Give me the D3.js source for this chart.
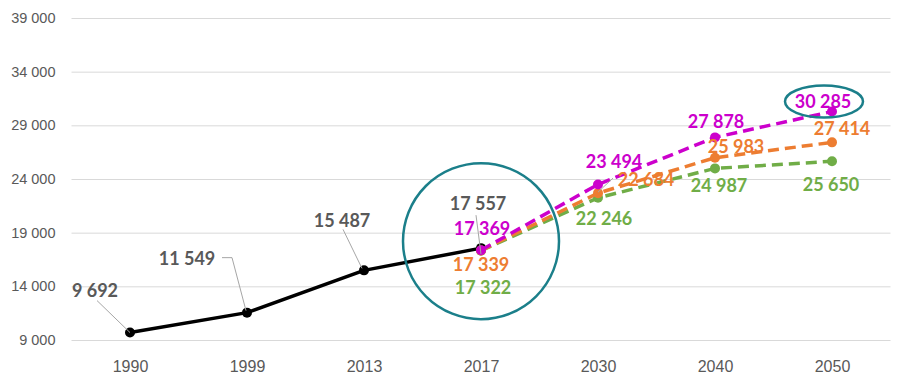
<!DOCTYPE html>
<html>
<head>
<meta charset="utf-8">
<script src="https://cdn.jsdelivr.net/npm/d3@7/dist/d3.min.js"></script>
<style>
  html, body { margin: 0; padding: 0; background: #fff; }
  svg { display: block; font-family: Lato, "Open Sans", sans-serif; }
</style>
</head>
<body>
<svg id="chart" width="897" height="374"></svg>
<script>
// Population: observed up to 2017, then three projection scenarios
const years = ["1990", "1999", "2013", "2017", "2030", "2040", "2050"];
const observed = [9692, 11549, 15487, 17557, null, null, null];
const scenarioHigh = [null, null, null, 17369, 23494, 27878, 30285];
const scenarioMid = [null, null, null, 17339, 22684, 25983, 27414];
const scenarioLow = [null, null, null, 17322, 22246, 24987, 25650];
const yTicks = [9000, 14000, 19000, 24000, 29000, 34000, 39000];

const series = [
  { name: "observed", values: observed, color: "#000000", dash: null, labelColor: "#595959",
    // label offsets [dx, dy] from each point
    offsets: [[-35, -43], [-60, -55], [-22, -50], [-3, -45]] },
  { name: "low", values: scenarioLow, color: "#70AD47", dash: "11,6", labelColor: "#70AD47",
    offsets: [null, null, null, [2, 36], [6, 20], [4, 17], [-1, 23]] },
  { name: "mid", values: scenarioMid, color: "#ED7D31", dash: "11,6", labelColor: "#ED7D31",
    offsets: [null, null, null, [0, 14], [48, -14], [21, -12], [10, -14]] },
  { name: "high", values: scenarioHigh, color: "#CC00CC", dash: "11,6", labelColor: "#CC00CC",
    offsets: [null, null, null, [1, -22], [16, -23], [1, -16], [-9, -11]] }
];

const svg = d3.select("#chart");
const x = d3.scalePoint().domain(years).range([71.5, 890.5]).padding(0.5);
const y = d3.scaleLinear().domain([9000, 39000]).range([340, 18]);
const fmt = v => d3.format(",")(v).replace(/,/g, " ");

// horizontal gridlines
const yAxis = d3.axisLeft(y).tickValues(yTicks).tickSize(-819).tickPadding(16).tickFormat(fmt);
const gy = svg.append("g").attr("transform", "translate(71.5,0)").call(yAxis);
gy.select(".domain").remove();
gy.selectAll(".tick line").attr("stroke", "#d9d9d9").attr("stroke-width", 1);
gy.selectAll(".tick text").attr("fill", "#595959").attr("font-size", 14.5).attr("x", -16);

// category axis
const xAxis = d3.axisBottom(x).tickSize(0).tickPadding(21);
const gx = svg.append("g").attr("transform", "translate(0,340)").call(xAxis);
gx.select(".domain").remove();
gx.selectAll(".tick text").attr("fill", "#595959").attr("font-size", 16);

// lines and markers
const line = d3.line()
  .defined(d => d.v != null)
  .x(d => x(d.year))
  .y(d => y(d.v));

series.forEach(s => {
  const pts = s.values.map((v, i) => ({ year: years[i], v }));
  svg.append("path")
    .datum(pts)
    .attr("fill", "none")
    .attr("stroke", s.color)
    .attr("stroke-width", 3.5)
    .attr("stroke-dasharray", s.dash)
    .attr("stroke-linejoin", "round")
    .attr("d", line);
  svg.append("g").selectAll("circle")
    .data(pts.filter(d => d.v != null))
    .join("circle")
    .attr("cx", d => x(d.year))
    .attr("cy", d => y(d.v))
    .attr("r", 5)
    .attr("fill", s.color);
});

// leader lines from labels to points
const leaders = [
  { s: 0, i: 0, path: [[-33, -32], [0, 0]] },
  { s: 0, i: 1, path: [[-25, -55], [-15, -55], [-1, -2]] },
  { s: 0, i: 2, path: [[-21, -41], [-2, -2]] },
  { s: 0, i: 3, path: [[-5, -33], [0, 6]] },
  { s: 2, i: 4, path: [[15, -15], [0, -1]] }
];
leaders.forEach(l => {
  const s = series[l.s];
  const px = x(years[l.i]), py = y(s.values[l.i]);
  svg.append("path")
    .attr("fill", "none")
    .attr("stroke", "#a6a6a6")
    .attr("stroke-width", 1)
    .attr("d", d3.line()(l.path.map(p => [px + p[0], py + p[1]])));
});

// value labels
const order = [series[0], series[3], series[2], series[1]];
order.forEach(s => {
  s.values.forEach((v, i) => {
    if (v == null || !s.offsets[i]) return;
    const [dx, dy] = s.offsets[i];
    svg.append("text")
      .attr("x", x(years[i]) + dx)
      .attr("y", y(v) + dy)
      .attr("text-anchor", "middle")
      .attr("dominant-baseline", "central")
      .attr("font-size", 18)
      .attr("font-weight", 700)
      .attr("fill", s.labelColor)
      .text(fmt(v));
  });
});

// highlight shapes
const teal = "#1B7F8A";
svg.append("circle")
  .attr("cx", x("2017"))
  .attr("cy", y(17557) - 7)
  .attr("r", 78)
  .attr("fill", "none")
  .attr("stroke", teal)
  .attr("stroke-width", 2.5);
svg.append("ellipse")
  .attr("cx", x("2050") - 8)
  .attr("cy", y(30285) - 10)
  .attr("rx", 39)
  .attr("ry", 16)
  .attr("fill", "none")
  .attr("stroke", teal)
  .attr("stroke-width", 2.5);
</script>
</body>
</html>
